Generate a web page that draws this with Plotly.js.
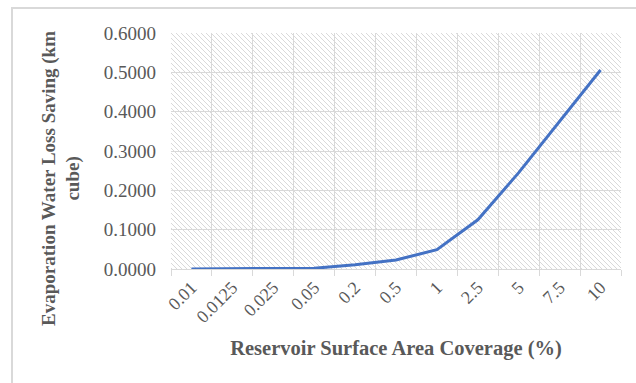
<!DOCTYPE html>
<html>
<head>
<meta charset="utf-8">
<script src="https://cdn.plot.ly/plotly-3.0.1.min.js"></script>
<style>
  html, body { margin: 0; padding: 0; background: #ffffff; }
  #wrap { position: relative; width: 636px; height: 383px; overflow: hidden; }
  #frame {
    position: absolute; left: 11px; top: 7px; width: 700px; height: 500px;
    border: 2px solid #d9d9d9; box-sizing: border-box;
  }
  #chart { position: absolute; left: 0; top: 0; width: 636px; height: 383px; }
</style>
</head>
<body>
<div id="wrap">
  <div id="frame"></div>
  <div id="chart"></div>
</div>
<script>
// Reservoir surface area coverage (%) and the resulting evaporation saving (km cube)
const coverage = ['0.01', '0.0125', '0.025', '0.05', '0.2', '0.5', '1', '2.5', '5', '7.5', '10'];
const waterSaving = [0.0003, 0.0004, 0.0008, 0.0018, 0.011, 0.023, 0.049, 0.125, 0.245, 0.376, 0.506];
const yTickValues = [0, 0.1, 0.2, 0.3, 0.4, 0.5, 0.6];

const W = 636, H = 383;
const M = { l: 171, r: 15, t: 33, b: 114 };
const plotW = W - M.l - M.r, plotH = H - M.t - M.b;

// Diagonal hatch used as the plot-area fill
const hatchSvg =
  '<svg xmlns="http://www.w3.org/2000/svg" width="' + plotW + '" height="' + plotH + '">' +
  '<defs><pattern id="hatch" width="5" height="5" patternUnits="userSpaceOnUse">' +
  '<path d="M-1,-1 L6,6 M-1,4 L1,6 M4,-1 L6,1" stroke="#d9d9d9" stroke-width="1"/>' +
  '</pattern></defs>' +
  '<rect width="100%" height="100%" fill="url(#hatch)"/></svg>';
const hatchUri = 'data:image/svg+xml;charset=utf-8,' + encodeURIComponent(hatchSvg);

const textGrey = '#595959';
const gridGrey = '#d9d9d9';
const serif = 'Liberation Serif, Times New Roman, serif';

const trace = {
  x: coverage,
  y: waterSaving,
  type: 'scatter',
  mode: 'lines',
  line: { color: '#4472C4', width: 3 },
  hoverinfo: 'x+y'
};

const layout = {
  width: W,
  height: H,
  margin: M,
  paper_bgcolor: 'rgba(0,0,0,0)',
  plot_bgcolor: '#ffffff',
  showlegend: false,
  font: { family: serif, color: textGrey, size: 18 },
  images: [{
    source: hatchUri,
    xref: 'paper', yref: 'paper',
    x: 0, y: 1, sizex: 1, sizey: 1,
    xanchor: 'left', yanchor: 'top',
    sizing: 'stretch', layer: 'below'
  }],
  // value-axis title, centred on the chart area rather than the plot area
  annotations: [{
    text: 'Evaporation Water Loss Saving (km<br>cube)',
    xref: 'paper', yref: 'paper',
    x: -0.245, y: 0.385,
    xanchor: 'center', yanchor: 'middle',
    textangle: -90,
    showarrow: false,
    font: { family: serif, size: 19, color: textGrey, weight: 'bold' }
  }],
  xaxis: {
    type: 'category',
    range: [-0.5, coverage.length - 0.5],
    tickson: 'boundaries',
    tickangle: -45,
    ticks: 'outside',
    ticklen: 6,
    tickcolor: gridGrey,
    showline: true,
    linecolor: gridGrey,
    linewidth: 1,
    showgrid: true,
    gridcolor: gridGrey,
    gridwidth: 1,
    tickfont: { family: serif, size: 18, color: textGrey },
    automargin: false,
    title: {
      text: 'Reservoir Surface Area Coverage (%)',
      font: { family: serif, size: 20.5, color: textGrey, weight: 'bold' },
      standoff: 14
    }
  },
  yaxis: {
    range: [0, 0.6],
    tickvals: yTickValues,
    tickformat: '.4f',
    showline: false,
    zeroline: false,
    showgrid: true,
    gridcolor: gridGrey,
    gridwidth: 1,
    ticks: '',
    ticklabelstandoff: 14,
    tickfont: { family: serif, size: 19, color: textGrey },
    automargin: false
  }
};

Plotly.newPlot('chart', [trace], layout, { displayModeBar: false, staticPlot: true });
</script>
</body>
</html>
